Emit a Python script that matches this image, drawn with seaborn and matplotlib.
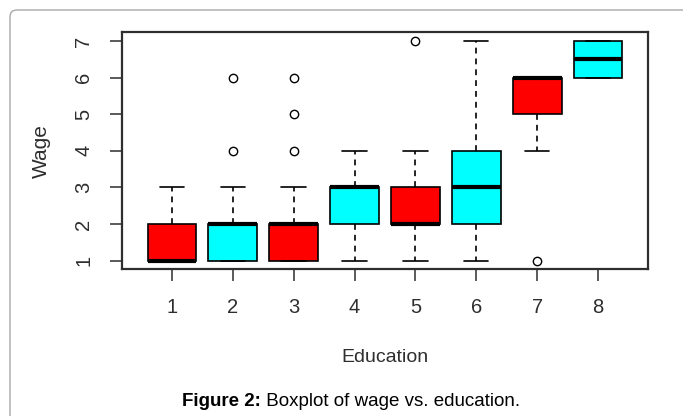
import matplotlib
matplotlib.use("Agg")
import matplotlib.pyplot as plt
import pandas as pd
import seaborn as sns
from matplotlib.patches import FancyBboxPatch
from matplotlib.transforms import IdentityTransform

# Wage ratings observed at each education level
education_levels = ["1", "2", "3", "4", "5", "6", "7", "8"]
wage_edu1 = [1, 1, 1, 1, 1, 2, 2, 3]
wage_edu2 = [1, 1, 1, 1, 1, 2, 2, 2, 2, 2, 2, 2, 2, 2, 3, 4, 6]
wage_edu3 = [1, 1, 1, 1, 1, 2, 2, 2, 2, 2, 2, 2, 2, 3, 4, 5, 6]
wage_edu4 = [1, 2, 2, 2, 3, 3, 3, 3, 4]
wage_edu5 = [1, 2, 2, 2, 2, 2, 2, 3, 3, 3, 3, 4, 7]
wage_edu6 = [1, 2, 2, 2, 3, 3, 3, 4, 4, 4, 5, 6, 7]
wage_edu7 = [1, 4, 5, 5, 6, 6, 6, 6, 6]
wage_edu8 = [6, 6, 7, 7]
wage_groups = [wage_edu1, wage_edu2, wage_edu3, wage_edu4,
               wage_edu5, wage_edu6, wage_edu7, wage_edu8]

box_colors = ["#FF0000", "#00FFFF", "#FF0000", "#00FFFF",
              "#FF0000", "#00FFFF", "#FF0000", "#00FFFF"]
wage_ticks = [1, 2, 3, 4, 5, 6, 7]

df = pd.DataFrame({
    "Education": [lvl for lvl, g in zip(education_levels, wage_groups) for _ in g],
    "Wage": [w for g in wage_groups for w in g],
})

sns.set_theme(style="white")
plt.rcParams["font.family"] = ["Liberation Sans", "DejaVu Sans"]

ink = "#2e2e2e"
fig = plt.figure(figsize=(6.83, 4.16), dpi=100)
ax = fig.add_axes([0.1786, 0.3526, 0.7701, 0.5697])

sns.boxplot(
    data=df, x="Education", y="Wage", hue="Education",
    order=education_levels, hue_order=education_levels,
    palette=box_colors, legend=False, saturation=1, width=0.8,
    linecolor="black", linewidth=1.2, whis=1.5, ax=ax,
    whiskerprops=dict(linestyle=(0, (3.5, 3))),
    medianprops=dict(linewidth=3.0, solid_capstyle="butt"),
    flierprops=dict(marker="o", markersize=6, markerfacecolor="none",
                    markeredgecolor="black", markeredgewidth=1.0),
)

ax.set_xlim(-0.82, 7.82)
ax.set_ylim(0.76, 7.24)
ax.set_yticks(wage_ticks)
ax.set_yticklabels([str(t) for t in wage_ticks])

for s in ax.spines.values():
    s.set_visible(True)
    s.set_color(ink)
    s.set_linewidth(1.6)

ax.tick_params(axis="both", direction="out", length=8.6, width=1.1,
               color=ink, labelcolor=ink, labelsize=14.5, pad=12,
               bottom=True, left=True)
for lbl in ax.get_yticklabels():
    lbl.set_rotation(90)
    lbl.set_va("center")

ax.set_xlabel("Education", fontsize=14, color=ink)
ax.xaxis.set_label_coords(0.5, -0.37)
ax.xaxis.label.set_va("center")
ax.set_ylabel("Wage", fontsize=15, color=ink)
ax.yaxis.set_label_coords(-0.154, 0.5)
ax.yaxis.label.set_va("center")

# Rounded panel border around the figure
frame = FancyBboxPatch((10, -30), 720, 436,
                       boxstyle="round,pad=0,rounding_size=7",
                       transform=IdentityTransform(),
                       facecolor="none", edgecolor="#a8a8a8", linewidth=1.0)
fig.patches.append(frame)

# Caption: bold lead followed by regular text
cap_y = 1 - 401 / 416
lead = fig.text(182 / 683, cap_y, "Figure 2:", fontsize=13.5, fontweight="bold",
                color="black", ha="left", va="center")
fig.canvas.draw()
bb = lead.get_window_extent()
fig.text(bb.x1 / 683, cap_y, " Boxplot of wage vs. education.", fontsize=13.5,
         color="black", ha="left", va="center")

fig.savefig("out.png", dpi=100)
